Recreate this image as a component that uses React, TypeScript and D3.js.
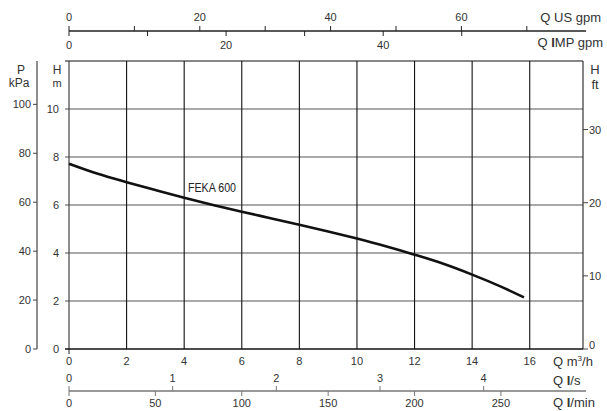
import React from "react";
import * as d3 from "d3";

const curveQ = [0, 1, 2, 3, 4, 5, 6, 7, 8, 9, 10, 11, 12, 13, 14, 15, 15.8];
const curveH = [7.72, 7.3, 6.95, 6.62, 6.3, 6.0, 5.72, 5.45, 5.18, 4.9, 4.6, 4.28, 3.93, 3.55, 3.1, 2.6, 2.15];
const qTicks = [0, 2, 4, 6, 8, 10, 12, 14, 16];
const hTicks = [0, 2, 4, 6, 8, 10];
const pTicks = [0, 20, 40, 60, 80, 100];
const ftTicks = [0, 10, 20, 30];
const usTicks = [0, 10, 20, 30, 40, 50, 60, 70];
const usLabels = [0, 20, 40, 60];
const impTicks = [0, 10, 20, 30, 40, 50];
const impLabels = [0, 20, 40];
const lsTicks = [0, 1, 2, 3, 4];
const lminTicks = [0, 50, 100, 150, 200, 250];

const FONT = "Liberation Sans, Arial, sans-serif";

export default function App() {
  const x = d3.scaleLinear().domain([0, 17.85]).range([69, 583]);
  const y = d3.scaleLinear().domain([0, 12]).range([349, 61]);
  const us = (v: number) => x(v * 0.22712);
  const imp = (v: number) => x(v * 0.27277);
  const ls = (v: number) => x(v * 3.6);
  const lmin = (v: number) => x(v * 0.06);
  const pY = (v: number) => y(v / 9.81);
  const ftY = (v: number) => y(v * 0.3048);
  const line = d3
    .line<number>()
    .x((_, i) => x(curveQ[i]))
    .y((d) => y(d))
    .curve(d3.curveCatmullRom);
  const [x0, x1] = x.range();
  const [yb, yt] = y.range();
  const topY = 31;
  const botY = 391;
  return (
    <svg width={607} height={411} style={{ position: "absolute", left: 0, top: 0 }} fontFamily={FONT}>
      <rect width={607} height={411} fill="#fff" />
      {/* horizontal grid */}
      {hTicks.filter((h) => h > 0).map((h) => (
        <line key={"h" + h} x1={x0 - 4} x2={x1} y1={y(h)} y2={y(h)} stroke="#555" strokeWidth={1.2} />
      ))}
      <line x1={x0 - 4} x2={x1} y1={yt} y2={yt} stroke="#111" strokeWidth={1.2} />
      {/* vertical grid */}
      {qTicks.filter((q) => q > 0).map((q) => (
        <line key={"v" + q} x1={x(q)} x2={x(q)} y1={yt} y2={yb} stroke="#111" strokeWidth={1.1} />
      ))}
      <line x1={x0} x2={x0} y1={yt} y2={yb + 5} stroke="#444" strokeWidth={1.2} />
      <line x1={x1} x2={x1} y1={yt} y2={yb} stroke="#333" strokeWidth={1.2} />
      <line x1={x0 - 4} x2={x1} y1={yb} y2={yb} stroke="#111" strokeWidth={1.3} />
      {/* curve */}
      <path d={line(curveH) || ""} fill="none" stroke="#111" strokeWidth={2.6} />
      <text x={188} y={192} fontSize={12} textLength={48} lengthAdjust="spacingAndGlyphs" fill="#222">
        FEKA 600
      </text>
      {/* H m labels */}
      {hTicks.map((h) => (
        <text key={"hl" + h} x={59} y={y(h) + 4} fontSize={11} textAnchor="end" fill="#333">
          {h}
        </text>
      ))}
      <text x={57} y={74} fontSize={12} textAnchor="middle" fill="#333">H</text>
      <text x={57} y={87} fontSize={11} textAnchor="middle" fill="#333">m</text>
      {/* P kPa axis */}
      <line x1={37} x2={37} y1={yt} y2={yb} stroke="#444" strokeWidth={1.2} />
      {pTicks.map((p) => (
        <g key={"p" + p}>
          <line x1={33} x2={37} y1={pY(p)} y2={pY(p)} stroke="#444" />
          <text x={31} y={pY(p) + 4} fontSize={11} textAnchor="end" fill="#333">
            {p}
          </text>
        </g>
      ))}
      <text x={21} y={74} fontSize={12} textAnchor="middle" fill="#333">P</text>
      <text x={19} y={87} fontSize={12} textAnchor="middle" fill="#333">kPa</text>
      {/* H ft axis */}
      {ftTicks.map((f) => (
        <g key={"f" + f}>
          <line x1={x1} x2={x1 + 5} y1={ftY(f)} y2={ftY(f)} stroke="#444" />
          <text x={x1 + 6} y={ftY(f) + (f === 0 ? 0 : 4)} fontSize={11} fill="#333">
            {f}
          </text>
        </g>
      ))}
      <text x={595} y={74} fontSize={13} textAnchor="middle" fill="#333">H</text>
      <text x={595} y={89} fontSize={13} textAnchor="middle" fill="#333">ft</text>
      {/* bottom m3/h labels */}
      {qTicks.map((q) => (
        <text key={"ql" + q} x={x(q)} y={365} fontSize={11} textAnchor="middle" fill="#333">
          {q}
        </text>
      ))}
      <text x={553} y={366} fontSize={13} fill="#333">
        Q m<tspan dy={-5} fontSize={8}>3</tspan><tspan dy={5}>/h</tspan>
      </text>
      {/* l/s and l/min axis */}
      <line x1={x0} x2={x1 + 3} y1={botY} y2={botY} stroke="#777" strokeWidth={1.3} />
      {lsTicks.map((v) => (
        <g key={"ls" + v}>
          <line x1={ls(v)} x2={ls(v)} y1={botY - 5} y2={botY} stroke="#777" />
          <text x={ls(v)} y={382} fontSize={11} textAnchor="middle" fill="#333">
            {v}
          </text>
        </g>
      ))}
      {lminTicks.map((v) => (
        <g key={"lm" + v}>
          <line x1={lmin(v)} x2={lmin(v)} y1={botY} y2={botY + 5} stroke="#777" />
          <text x={lmin(v)} y={407} fontSize={11} textAnchor="middle" fill="#333">
            {v}
          </text>
        </g>
      ))}
      <text x={553} y={385} fontSize={13} fill="#333">
        Q <tspan fontWeight="bold">l</tspan>/s
      </text>
      <text x={553} y={407} fontSize={13} fill="#333">
        Q <tspan fontWeight="bold">l</tspan>/min
      </text>
      {/* top gpm axis */}
      <line x1={x0} x2={x1 + 3} y1={topY} y2={topY} stroke="#222" strokeWidth={1.3} />
      {usTicks.map((v) => (
        <line key={"us" + v} x1={us(v)} x2={us(v)} y1={topY - 5} y2={topY} stroke="#222" />
      ))}
      {usLabels.map((v) => (
        <text key={"usl" + v} x={us(v)} y={21} fontSize={11} textAnchor="middle" fill="#333">
          {v}
        </text>
      ))}
      {impTicks.map((v) => (
        <line key={"imp" + v} x1={imp(v)} x2={imp(v)} y1={topY} y2={topY + 5} stroke="#222" />
      ))}
      {impLabels.map((v) => (
        <text key={"impl" + v} x={imp(v)} y={49} fontSize={11} textAnchor="middle" fill="#333">
          {v}
        </text>
      ))}
      <text x={601} y={22} fontSize={13} textAnchor="end" fill="#333">Q US gpm</text>
      <text x={603} y={47} fontSize={13} textAnchor="end" fill="#333">
        Q <tspan fontWeight="bold">I</tspan>MP gpm
      </text>
    </svg>
  );
}
